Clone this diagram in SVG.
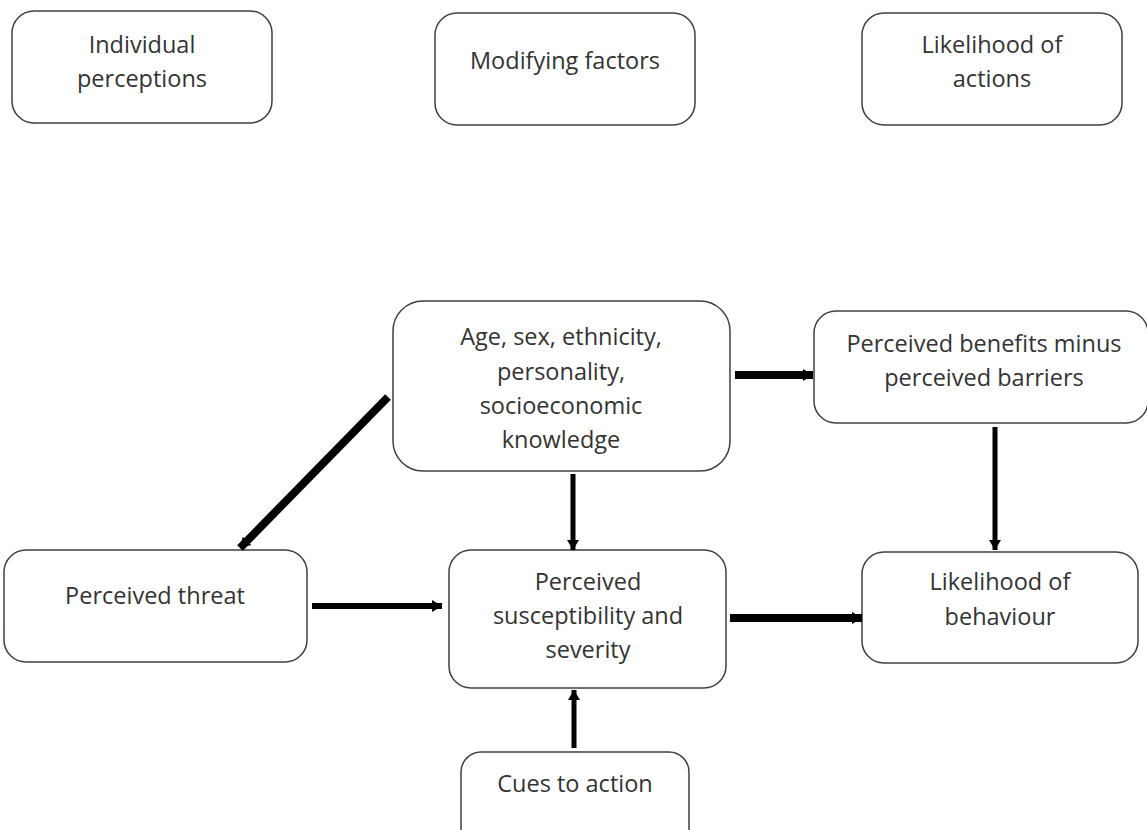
<svg xmlns="http://www.w3.org/2000/svg" width="1147" height="830" viewBox="0 0 1147 830">
<style>
.box{fill:#fff;stroke:#404040;stroke-width:1.5}
.t{font-family:"Open Sans","Noto Sans",sans-serif;font-size:23.5px;fill:#333;text-anchor:middle}
.c{stroke:#000;fill:none}
</style>
<defs>
<marker id="ah" markerUnits="userSpaceOnUse" markerWidth="14" markerHeight="16" refX="10" refY="8" orient="auto">
<path d="M0,2 L10,8 L0,14 Z" fill="#000"/>
</marker>
</defs>
<rect width="1147" height="830" fill="#fff"/>
<g id="individual-perceptions"><rect class="box" x="12" y="11" width="260" height="112" rx="22"/><text class="t" x="142" y="53">Individual</text><text class="t" x="142" y="87">perceptions</text></g>
<g id="modifying-factors"><rect class="box" x="435" y="13" width="260" height="112" rx="22"/><text class="t" x="565" y="69">Modifying factors</text></g>
<g id="likelihood-actions"><rect class="box" x="862" y="13" width="260" height="112" rx="22"/><text class="t" x="992" y="53">Likelihood of</text><text class="t" x="992" y="87">actions</text></g>
<g id="age"><rect class="box" x="393" y="301" width="337" height="170" rx="30"/><text class="t" x="561" y="345">Age, sex, ethnicity,</text><text class="t" x="561" y="380">personality,</text><text class="t" x="561" y="414">socioeconomic</text><text class="t" x="561" y="448">knowledge</text></g>
<g id="benefits"><rect class="box" x="814" y="311" width="334" height="112" rx="22"/><text class="t" x="984" y="352">Perceived benefits minus</text><text class="t" x="984" y="386">perceived barriers</text></g>
<g id="threat"><rect class="box" x="4" y="550" width="303" height="112" rx="22"/><text class="t" x="155" y="604">Perceived threat</text></g>
<g id="susceptibility"><rect class="box" x="449" y="550" width="277" height="138" rx="22"/><text class="t" x="588" y="590">Perceived</text><text class="t" x="588" y="624">susceptibility and</text><text class="t" x="588" y="658">severity</text></g>
<g id="behaviour"><rect class="box" x="862" y="552" width="276" height="111" rx="22"/><text class="t" x="1000" y="590">Likelihood of</text><text class="t" x="1000" y="625">behaviour</text></g>
<g id="cues"><rect class="box" x="461" y="752" width="228" height="100" rx="20"/><text class="t" x="575" y="792">Cues to action</text></g>
<g id="connectors">
<line class="c" x1="735" y1="375" x2="813" y2="375" stroke-width="8" marker-end="url(#ah)"/>
<line class="c" x1="388" y1="397" x2="240" y2="548" stroke-width="8" marker-end="url(#ah)"/>
<line class="c" x1="573" y1="474" x2="573" y2="550" stroke-width="5" marker-end="url(#ah)"/>
<line class="c" x1="995" y1="427" x2="995" y2="550" stroke-width="5" marker-end="url(#ah)"/>
<line class="c" x1="312" y1="606" x2="442" y2="606" stroke-width="6" marker-end="url(#ah)"/>
<line class="c" x1="730" y1="618" x2="862" y2="618" stroke-width="8" marker-end="url(#ah)"/>
<line class="c" x1="574" y1="748" x2="574" y2="690" stroke-width="5" marker-end="url(#ah)"/>
</g>
</svg>
